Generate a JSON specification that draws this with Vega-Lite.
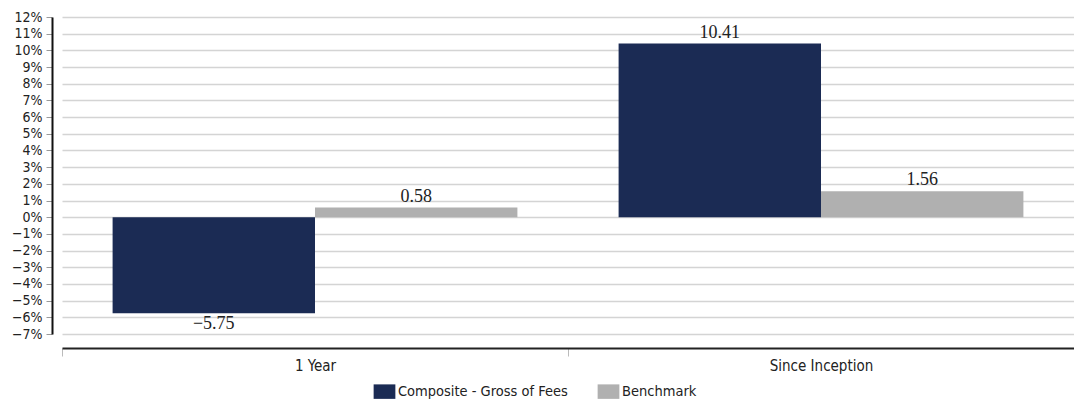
{
  "$schema": "https://vega.github.io/schema/vega-lite/v6.json",
  "autosize": {"type": "none"},
  "padding": {"left": 62, "top": 17, "right": 0, "bottom": 67},
  "width": 1012,
  "height": 317,
  "background": "white",
  "config": {"view": {"stroke": null}},
  "data": {"values": [
    {"period": "1 Year", "series": "Composite - Gross of Fees", "value": -5.75},
    {"period": "1 Year", "series": "Benchmark", "value": 0.58},
    {"period": "Since Inception", "series": "Composite - Gross of Fees", "value": 10.41},
    {"period": "Since Inception", "series": "Benchmark", "value": 1.56}
  ]},
  "encoding": {
    "x": {"field": "period", "type": "nominal", "sort": ["1 Year", "Since Inception"],
      "scale": {"paddingInner": 0, "paddingOuter": 0},
      "axis": {"title": null, "labelAngle": 0, "offset": 14, "domainColor": "#222", "domainWidth": 2,
        "tickBand": "extent", "tickColor": "#bbb", "tickSize": 8, "tickWidth": 1,
        "labelFont": "DejaVu Sans Condensed", "labelFontSize": 15, "labelColor": "#222", "labelPadding": 2}},
    "xOffset": {"field": "series", "type": "nominal", "sort": ["Composite - Gross of Fees", "Benchmark"],
      "scale": {"paddingInner": 0, "paddingOuter": 0.25}},
    "y": {"field": "value", "type": "quantitative",
      "scale": {"domain": [-7, 12], "nice": false, "zero": false},
      "axis": {"title": null, "values": [-7,-6,-5,-4,-3,-2,-1,0,1,2,3,4,5,6,7,8,9,10,11,12],
        "labelExpr": "replace(format(datum.value, 'd'), '-', '−') + '%'",
        "offset": 10, "domainColor": "#111", "domainWidth": 2, "tickColor": "#999", "tickSize": 6,
        "gridColor": "#d4d4d4", "gridWidth": 1.5, "labelFont": "DejaVu Sans Condensed", "labelFontSize": 14,
        "labelColor": "#222", "labelPadding": 4}}
  },
  "layer": [
    {"mark": {"type": "bar"},
      "encoding": {"color": {"field": "series", "type": "nominal", "sort": ["Composite - Gross of Fees", "Benchmark"],
        "scale": {"domain": ["Composite - Gross of Fees", "Benchmark"], "range": ["#1b2b54", "#b0b0b0"]},
        "legend": {"title": null, "orient": "none", "legendX": 315, "legendY": 367, "direction": "horizontal",
          "symbolType": "M-1.5,-1L1.5,-1L1.5,1L-1.5,1Z", "symbolSize": 210, "symbolStrokeWidth": 0, "symbolOpacity": 1,
          "labelFont": "DejaVu Sans Condensed", "labelFontSize": 14.5, "labelLimit": 400, "labelColor": "#222", "columnPadding": 29, "labelOffset": 6}}}},
    {"transform": [{"filter": "datum.value >= 0"}],
      "mark": {"type": "text", "baseline": "bottom", "dy": -2, "font": "Liberation Serif", "fontSize": 18, "color": "#222"},
      "encoding": {"text": {"field": "value", "type": "quantitative", "format": ".2f"}}},
    {"transform": [{"filter": "datum.value < 0"}],
      "mark": {"type": "text", "baseline": "top", "dy": 2, "font": "Liberation Serif", "fontSize": 18, "color": "#222"},
      "encoding": {"text": {"field": "value", "type": "quantitative", "format": ".2f"}}}
  ]
}
